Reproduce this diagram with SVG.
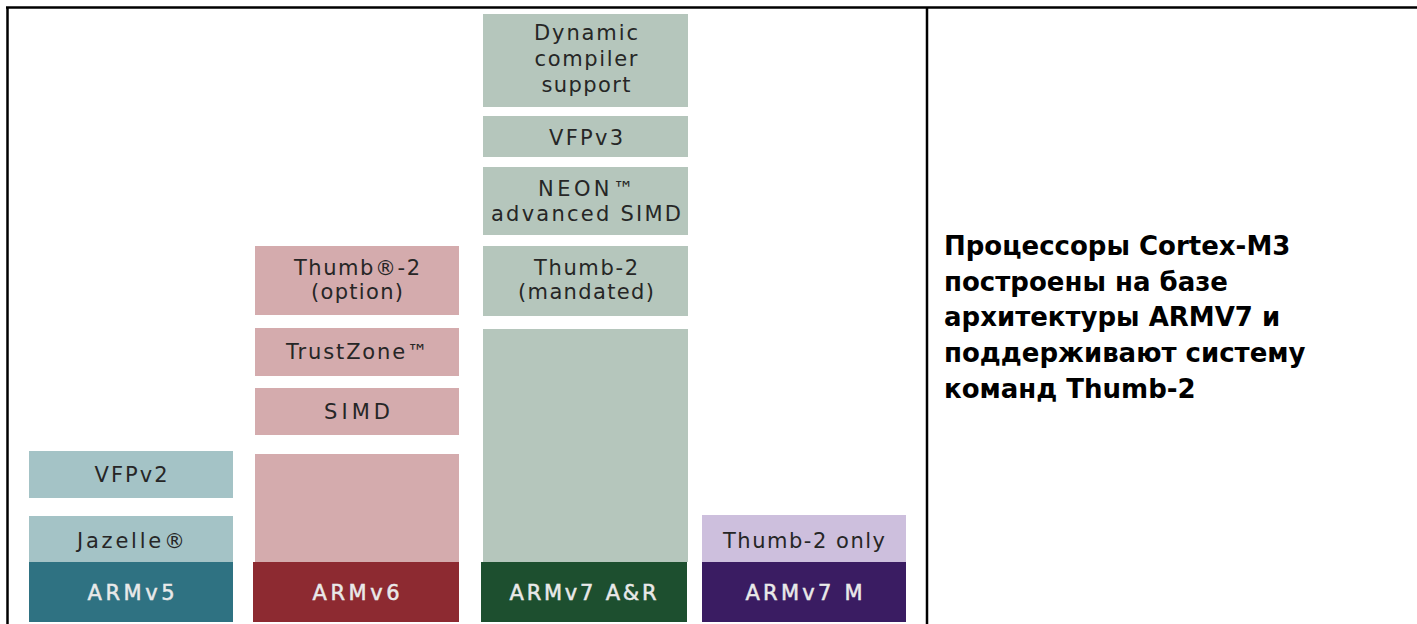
<svg xmlns="http://www.w3.org/2000/svg" width="1417" height="624" viewBox="0 0 1417 624">
<style>
.lbl{font-family:"DejaVu Sans","Liberation Sans",sans-serif;font-size:21px;fill:#262626;text-anchor:middle}
.base{font-family:"DejaVu Sans","Liberation Sans",sans-serif;font-size:21px;fill:#e9e9e9;stroke:#e9e9e9;stroke-width:0.5;text-anchor:middle}
.note{font-family:"DejaVu Sans","Liberation Sans",sans-serif;font-size:26px;font-weight:bold;fill:#000}
.v5l{fill:#a4c3c6}.v5d{fill:#2f7282}
.v6l{fill:#d4abad}.v6d{fill:#8d2a31}
.v7l{fill:#b5c6bc}.v7d{fill:#1d4f2f}
.v7ml{fill:#cdbfdd}.v7md{fill:#3a1c62}
.frame{stroke:#000;stroke-width:2.5;fill:none}
</style>
<rect width="1417" height="624" fill="#fff"/>
<g id="frame">
<line class="frame" x1="6" y1="7.5" x2="1417" y2="7.5"/>
<line class="frame" x1="7.5" y1="7" x2="7.5" y2="624"/>
<line class="frame" x1="927" y1="7" x2="927" y2="624"/>
</g>
<g id="connectors"></g>
<g id="armv5">
<rect class="v5l" x="29" y="451" width="204" height="47"/>
<text class="lbl" x="131" y="482" textLength="73">VFPv2</text>
<rect class="v5l" x="29" y="516" width="204" height="46"/>
<text class="lbl" x="131" y="548" textLength="108">Jazelle®</text>
<rect class="v5d" x="29" y="562" width="204" height="60"/>
<text class="base" x="131" y="600" textLength="87">ARMv5</text>
</g>
<g id="armv6">
<rect class="v6l" x="255" y="246" width="204" height="69"/>
<text class="lbl" x="357" y="275" textLength="126">Thumb®-2</text>
<text class="lbl" x="357" y="299" textLength="92">(option)</text>
<rect class="v6l" x="255" y="328" width="204" height="48"/>
<text class="lbl" x="357" y="359" textLength="142">TrustZone™</text>
<rect class="v6l" x="255" y="388" width="204" height="47"/>
<text class="lbl" x="357" y="419" textLength="66">SIMD</text>
<rect class="v6l" x="255" y="454" width="204" height="108"/>
<rect class="v6d" x="253" y="562" width="206" height="60"/>
<text class="base" x="356" y="600" textLength="87">ARMv6</text>
</g>
<g id="armv7ar">
<rect class="v7l" x="483" y="14" width="205" height="93"/>
<text class="lbl" x="586" y="40" textLength="104">Dynamic</text>
<text class="lbl" x="586" y="66" textLength="103">compiler</text>
<text class="lbl" x="586" y="92" textLength="89">support</text>
<rect class="v7l" x="483" y="116" width="205" height="41"/>
<text class="lbl" x="586" y="145" textLength="74">VFPv3</text>
<rect class="v7l" x="483" y="167" width="205" height="68"/>
<text class="lbl" x="586" y="196" textLength="96">NEON™</text>
<text class="lbl" x="586" y="221" textLength="190">advanced SIMD</text>
<rect class="v7l" x="483" y="246" width="205" height="70"/>
<text class="lbl" x="586" y="275" textLength="104">Thumb-2</text>
<text class="lbl" x="586" y="299" textLength="136">(mandated)</text>
<rect class="v7l" x="483" y="329" width="205" height="233"/>
<rect class="v7d" x="481" y="562" width="206" height="60"/>
<text class="base" x="583" y="600" textLength="147">ARMv7 A&amp;R</text>
</g>
<g id="armv7m">
<rect class="v7ml" x="702" y="515" width="204" height="47"/>
<text class="lbl" x="804" y="548" textLength="162">Thumb-2 only</text>
<rect class="v7md" x="702" y="562" width="204" height="60"/>
<text class="base" x="804" y="600" textLength="117">ARMv7 M</text>
</g>
<g id="note">
<text class="note" x="944" y="255" font-size="26.3">Процессоры Cortex-M3</text>
<text class="note" x="944" y="291">построены на базе</text>
<text class="note" x="944" y="326">архитектуры ARMV7 и</text>
<text class="note" x="944" y="362">поддерживают систему</text>
<text class="note" x="944" y="398">команд Thumb-2</text>
</g>
</svg>
